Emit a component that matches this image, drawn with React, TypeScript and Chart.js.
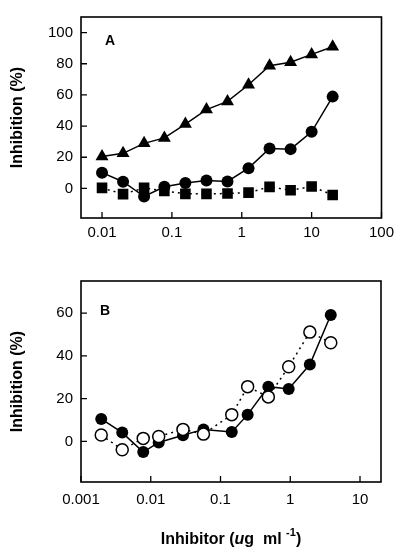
import React, { useEffect, useRef } from "react";
import { Chart, registerables } from "chart.js";

Chart.register(...registerables);

// ---------- Data ----------
// Panel A
const concA = [0.01, 0.02, 0.04, 0.078, 0.156, 0.3125, 0.625, 1.25, 2.5, 5, 10, 20];
const trianglesA = [20.5, 22.5, 28.9, 32.4, 41.3, 50.6, 55.8, 66.5, 78.7, 81, 86, 90.9];
const circlesA = [10.1, 4.3, -5.2, 1.0, 3.5, 5.1, 4.5, 13, 25.6, 25.2, 36.3, 58.9];
const squaresA = [0.3, -3.7, 0.3, -1.7, -3.5, -3.5, -3.3, -2.7, 1.0, -1.2, 1.2, -4.2];
const xTicksA = [0.01, 0.1, 1, 10, 100];
const yTicksA = [0, 20, 40, 60, 80, 100];

// Panel B
const concB = [0.00195, 0.0039, 0.0078, 0.013, 0.029, 0.057, 0.145, 0.245, 0.485, 0.95, 1.91, 3.81];
const filledB = [10.5, 4.1, -5, -0.5, 2.9, 5.6, 4.4, 12.5, 25.6, 24.5, 35.9, 59.1];
const openB = [3.0, -3.9, 1.4, 2.3, 5.6, 3.4, 12.5, 25.6, 20.8, 34.9, 51.1, 46.1];
const xTicksB = [0.001, 0.01, 0.1, 1, 10];
const yTicksB = [0, 20, 40, 60];

const yTitle = "Inhibition (%)";
const FONT = '"Liberation Sans", Arial, Helvetica, sans-serif';

const pts = (xs: number[], ys: number[]) => xs.map((x, i) => ({ x, y: ys[i] }));

const framePlugin = {
  id: "frame",
  afterDraw(chart: any, _args: any, opts: any) {
    const { ctx, chartArea: a, scales } = chart;
    ctx.save();
    ctx.strokeStyle = "#000";
    ctx.lineWidth = 1.6;
    ctx.strokeRect(a.left, a.top, a.right - a.left, a.bottom - a.top);
    ctx.lineWidth = 1.3;
    ctx.beginPath();
    for (const t of scales.x.ticks) {
      const px = scales.x.getPixelForValue(t.value);
      ctx.moveTo(px, a.bottom);
      ctx.lineTo(px, a.bottom - 6);
    }
    for (const t of scales.y.ticks) {
      const py = scales.y.getPixelForValue(t.value);
      ctx.moveTo(a.left, py);
      ctx.lineTo(a.left + 6, py);
    }
    ctx.stroke();
    ctx.fillStyle = "#000";
    ctx.font = `bold 14px ${FONT}`;
    ctx.textAlign = "left";
    ctx.textBaseline = "middle";
    ctx.fillText(opts.letter, a.left + opts.dx, a.top + opts.dy);
    if (opts.xTitle) {
      const segs = [
        { t: "Inhibitor (", f: `bold 16px ${FONT}`, dy: 0 },
        { t: "u", f: `italic bold 16px ${FONT}`, dy: 0 },
        { t: "g  ml ", f: `bold 16px ${FONT}`, dy: 0 },
        { t: "-1", f: `bold 11px ${FONT}`, dy: -7 },
        { t: ")", f: `bold 16px ${FONT}`, dy: 0 },
      ];
      let total = 0;
      const widths = segs.map((s) => {
        ctx.font = s.f;
        const w = ctx.measureText(s.t).width;
        total += w;
        return w;
      });
      let x = (a.left + a.right) / 2 - total / 2;
      const y = opts.xTitleY;
      segs.forEach((s, i) => {
        ctx.font = s.f;
        ctx.fillText(s.t, x, y + s.dy);
        x += widths[i];
      });
    }
    ctx.restore();
  },
};

function makeOptions(
  xMin: number,
  xMax: number,
  xTicks: number[],
  yMin: number,
  yMax: number,
  yTicks: number[],
  xAxisHeight: number,
  xPad: number,
  rightPad: number,
  frame: any
) {
  return {
    responsive: false,
    animation: false,
    layout: { padding: { top: 10, right: rightPad, left: 0, bottom: 0 } },
    plugins: {
      legend: { display: false },
      tooltip: { enabled: false },
      frame,
    },
    scales: {
      x: {
        type: "logarithmic",
        min: xMin,
        max: xMax,
        grid: { display: false, drawTicks: false },
        border: { display: false },
        afterBuildTicks: (s: any) => {
          s.ticks = xTicks.map((v) => ({ value: v }));
        },
        afterFit: (s: any) => {
          s.height = xAxisHeight;
        },
        ticks: {
          autoSkip: false,
          maxRotation: 0,
          padding: xPad,
          color: "#000",
          font: { family: FONT, size: 15 },
          callback: (v: any) => String(v),
        },
      },
      y: {
        min: yMin,
        max: yMax,
        grid: { display: false, drawTicks: false },
        border: { display: false },
        afterBuildTicks: (s: any) => {
          s.ticks = yTicks.map((v) => ({ value: v }));
        },
        afterFit: (s: any) => {
          s.width = 81;
        },
        ticks: {
          padding: 8,
          color: "#000",
          font: { family: FONT, size: 15 },
        },
        title: {
          display: true,
          text: yTitle,
          color: "#000",
          padding: { top: 8, bottom: 0 },
          font: { family: FONT, size: 16, weight: "bold" },
        },
      },
    },
  };
}

const lineBase = {
  borderColor: "#000",
  borderWidth: 1.5,
  tension: 0,
  pointBorderColor: "#000",
  pointBackgroundColor: "#000",
};

export default function App() {
  const refA = useRef<HTMLCanvasElement>(null);
  const refB = useRef<HTMLCanvasElement>(null);

  useEffect(() => {
    const chartA = new Chart(refA.current as HTMLCanvasElement, {
      type: "line",
      data: {
        datasets: [
          { ...lineBase, data: pts(concA, trianglesA), pointStyle: "triangle", pointRadius: 7.5, pointBorderWidth: 0 },
          { ...lineBase, data: pts(concA, circlesA), pointStyle: "circle", pointRadius: 6, pointBorderWidth: 0 },
          {
            ...lineBase,
            data: pts(concA, squaresA),
            pointStyle: "rect",
            pointRadius: 7.5,
            pointBorderWidth: 0,
            borderDash: [2, 4],
          },
        ],
      } as any,
      options: makeOptions(0.005, 100, xTicksA, -19, 110, yTicksA, 46, 6, 18, {
        letter: "A",
        dx: 24,
        dy: 24,
      }) as any,
      plugins: [framePlugin],
    });

    const chartB = new Chart(refB.current as HTMLCanvasElement, {
      type: "line",
      data: {
        datasets: [
          {
            ...lineBase,
            data: pts(concB, openB),
            pointStyle: "circle",
            pointRadius: 6,
            pointBorderWidth: 1.5,
            pointBackgroundColor: "#fff",
            borderDash: [2, 4],
          },
          { ...lineBase, data: pts(concB, filledB), pointStyle: "circle", pointRadius: 6, pointBorderWidth: 0 },
        ],
      } as any,
      options: makeOptions(0.001, 20, xTicksB, -19, 75, yTicksB, 70, 9, 19, {
        letter: "B",
        dx: 19,
        dy: 30,
        xTitle: true,
        xTitleY: 276,
      }) as any,
      plugins: [framePlugin],
    });

    return () => {
      chartA.destroy();
      chartB.destroy();
    };
  }, []);

  return (
    <div style={{ position: "absolute", left: 0, top: 0, width: 400, height: 552, background: "#fff" }}>
      <canvas ref={refA} width={400} height={264} style={{ display: "block" }} />
      <canvas ref={refB} width={400} height={288} style={{ display: "block" }} />
    </div>
  );
}
